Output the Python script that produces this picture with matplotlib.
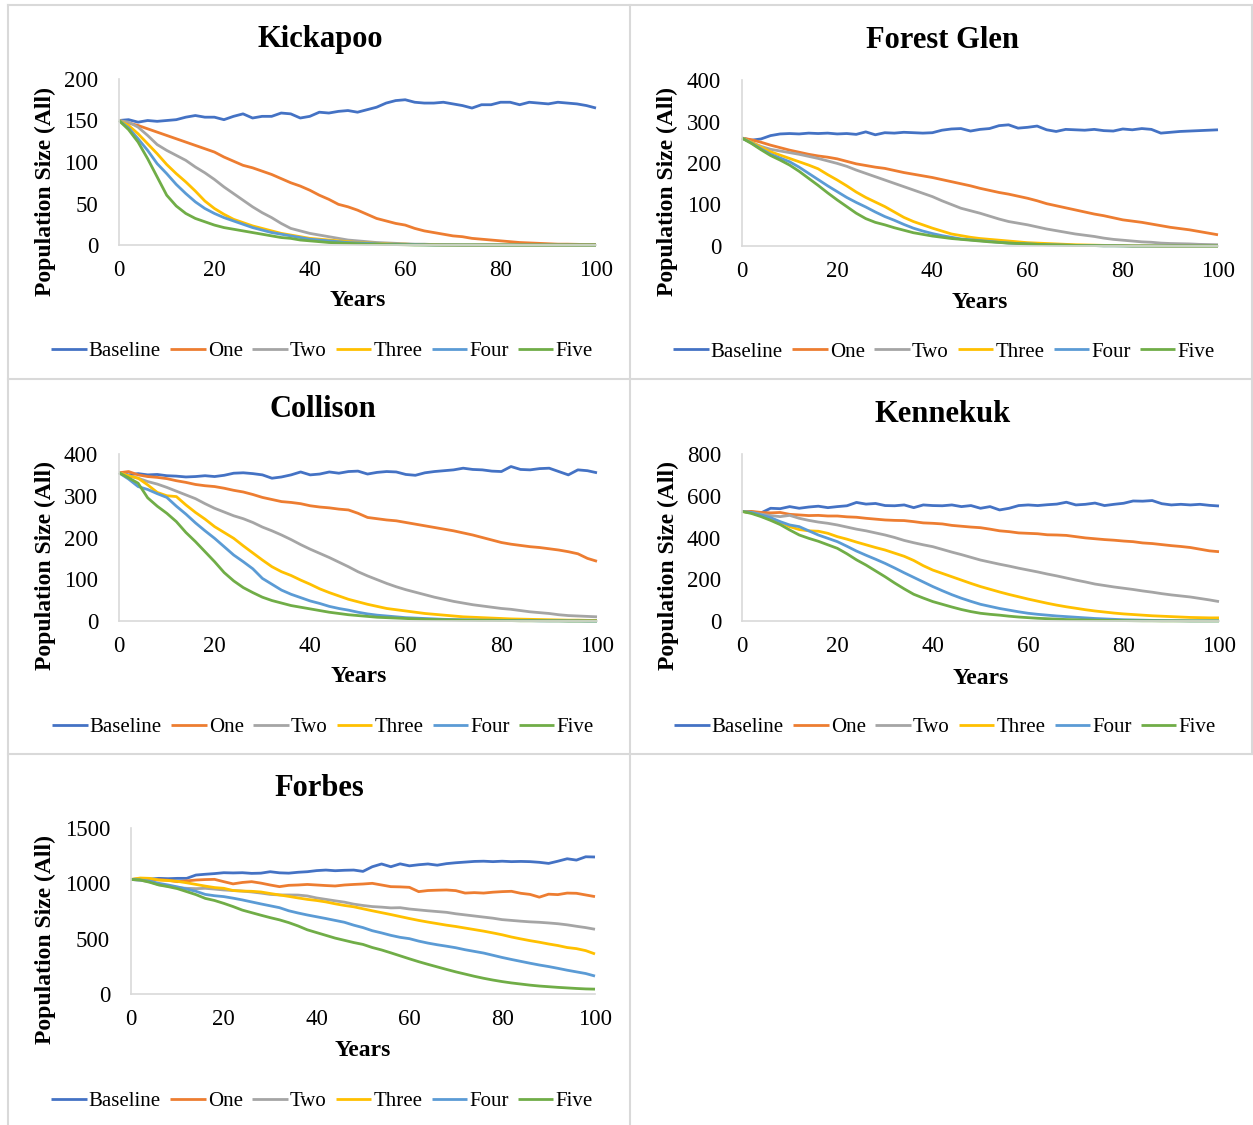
import matplotlib.pyplot as plt
from matplotlib.lines import Line2D

plt.rcParams['font.family'] = ['Liberation Serif', 'DejaVu Serif']

W, H = 1253, 1125

YEARS = [0, 2, 4, 6, 8, 10, 12, 14, 16, 18, 20, 22, 24, 26, 28, 30, 32, 34, 36, 38, 40,
         42, 44, 46, 48, 50, 52, 54, 56, 58, 60, 62, 64, 66, 68, 70, 72, 74, 76, 78, 80,
         82, 84, 86, 88, 90, 92, 94, 96, 98, 100]
SERIES_NAMES = ["Baseline", "One", "Two", "Three", "Four", "Five"]
SERIES_COLORS = ["#4472C4", "#ED7D31", "#A5A5A5", "#FFC000", "#5B9BD5", "#70AD47"]

# Kickapoo
KICK_BASE = [150, 151, 148, 150, 149, 150, 151, 154, 156, 154, 154, 151, 155, 158, 153, 155, 155,
             159, 158, 153, 155, 160, 159, 161, 162, 160, 163, 166, 171, 174, 175, 172, 171, 171,
             172, 170, 168, 165, 169, 169, 172, 172, 169, 172, 171, 170, 172, 171, 170, 168, 165]
KICK_ONE = [150, 147, 144, 140, 136, 132, 128, 124, 120, 116, 112, 106, 101, 96, 93, 89, 85, 80,
            75, 71, 66, 60, 55, 49, 46, 42, 37, 32, 29, 26, 24, 20, 17, 15, 13, 11, 10, 8, 7, 6,
            5, 4, 3, 2.5, 2, 1.5, 1, 1, 0.8, 0.5, 0.5]
KICK_TWO = [150, 148, 142, 132, 121, 114, 108, 102, 94, 87, 79, 70, 62, 54, 46, 39, 33, 26, 20,
            17, 14, 12, 10, 8, 6, 5, 4, 3, 2.5, 2, 1.5, 1, 1, 0.5, 0.5, 0.3, 0, 0, 0, 0, 0, 0,
            0, 0, 0, 0, 0, 0, 0, 0, 0]
KICK_THREE = [150, 144, 134, 122, 110, 97, 86, 76, 65, 53, 44, 37, 31, 27, 23, 20, 17, 14, 12,
              10, 8, 7, 6, 5, 4, 3, 2.5, 2, 1.5, 1, 1, 0.5, 0.5, 0.3, 0, 0, 0, 0, 0, 0, 0, 0,
              0, 0, 0, 0, 0, 0, 0, 0, 0]
KICK_FOUR = [150, 141, 128, 114, 98, 86, 73, 62, 52, 44, 38, 33, 29, 25, 21, 18, 15, 13, 11, 9,
             7, 6, 5, 4, 3, 2.5, 2, 1.5, 1, 1, 0.5, 0.5, 0.3, 0, 0, 0, 0, 0, 0, 0, 0, 0, 0, 0,
             0, 0, 0, 0, 0, 0, 0]
KICK_FIVE = [150, 139, 124, 104, 82, 60, 47, 38, 32, 28, 24, 21, 19, 17, 15, 13, 11, 9, 8, 6,
             5, 4, 3, 2.5, 2, 1.5, 1, 1, 0.5, 0.5, 0.3, 0, 0, 0, 0, 0, 0, 0, 0, 0, 0, 0, 0, 0,
             0, 0, 0, 0, 0, 0, 0]

# Forest Glen
FG_BASE = [260, 255, 258, 266, 270, 271, 270, 272, 271, 272, 270, 271, 269, 275, 268, 273, 272,
           274, 273, 272, 273, 279, 282, 283, 277, 281, 283, 290, 292, 284, 286, 289, 280, 276,
           281, 280, 279, 281, 278, 277, 282, 280, 283, 281, 272, 274, 276, 277, 278, 279, 280]
FG_ONE = [260, 256, 250, 243, 237, 231, 226, 221, 217, 214, 210, 204, 198, 194, 190, 187, 182,
          177, 173, 169, 165, 160, 155, 150, 145, 139, 134, 129, 125, 120, 115, 109, 102, 97, 92,
          87, 82, 77, 73, 68, 63, 60, 57, 53, 49, 45, 42, 39, 35, 31, 27]
FG_TWO = [260, 250, 240, 233, 229, 225, 221, 216, 211, 205, 199, 192, 183, 175, 167, 159, 151,
          143, 135, 127, 119, 109, 100, 91, 85, 79, 72, 65, 59, 55, 51, 46, 41, 37, 33, 29, 26,
          23, 19, 16, 14, 12, 10, 9, 7, 6, 5.5, 5, 4, 3.5, 3]
FG_THREE = [260, 250, 238, 227, 219, 211, 203, 195, 186, 172, 159, 145, 130, 117, 106, 95, 82,
            69, 59, 51, 43, 36, 29, 25, 21, 18, 16, 14, 12, 10, 8, 7, 6, 5, 4, 3, 2.5, 2, 1.5,
            1, 1, 0.5, 0.5, 0.3, 0, 0, 0, 0, 0, 0, 0]
FG_FOUR = [260, 248, 234, 221, 212, 203, 190, 175, 160, 145, 131, 117, 105, 94, 82, 71, 62, 52,
           43, 36, 30, 25, 21, 17, 15, 13, 11, 9, 7, 6, 5, 4, 3, 2.5, 2, 1.5, 1, 1, 0.5, 0.5,
           0.3, 0, 0, 0, 0, 0, 0, 0, 0, 0, 0]
FG_FIVE = [260, 247, 232, 218, 207, 195, 180, 163, 146, 128, 111, 95, 79, 66, 57, 51, 44, 38,
           32, 28, 24, 21, 18, 16, 14, 12, 10, 8.5, 7, 6, 5, 4, 3, 2.5, 2, 1.5, 1, 1, 0.5, 0.5,
           0.3, 0, 0, 0, 0, 0, 0, 0, 0, 0, 0]

# Collison
COL_BASE = [355, 350, 353, 350, 351, 348, 347, 345, 346, 348, 346, 349, 354, 355, 353, 350, 342,
            345, 350, 357, 350, 352, 357, 354, 358, 359, 352, 356, 358, 357, 351, 349, 355, 358,
            360, 362, 366, 363, 362, 359, 358, 370, 363, 362, 365, 366, 358, 350, 362, 360, 355]
COL_ONE = [355, 358, 350, 346, 344, 341, 336, 332, 327, 324, 322, 318, 313, 309, 303, 296, 291,
           286, 284, 281, 276, 273, 271, 268, 266, 258, 248, 245, 242, 240, 236, 232, 228, 224,
           220, 216, 211, 206, 200, 194, 188, 184, 181, 178, 176, 173, 170, 166, 161, 150, 143]
COL_TWO = [355, 348, 342, 334, 328, 320, 311, 302, 293, 281, 270, 261, 252, 245, 236, 225, 216,
           206, 195, 183, 172, 162, 152, 141, 130, 118, 108, 99, 90, 82, 75, 69, 63, 57, 52, 47,
           43, 39, 36, 33, 30, 28, 25, 22, 20, 18, 15, 13, 12, 11, 10]
COL_THREE = [355, 348, 342, 326, 308, 300, 298, 278, 260, 244, 226, 212, 198, 180, 163, 146, 130,
             118, 109, 98, 88, 77, 68, 60, 52, 46, 40, 35, 30, 27, 24, 21, 18, 16, 14, 12, 10, 9,
             8, 7, 6, 5, 4.5, 4, 3.5, 3, 2.5, 2, 2, 1.5, 1.5]
COL_FOUR = [355, 340, 322, 315, 305, 296, 275, 256, 235, 216, 198, 178, 158, 142, 125, 102, 88,
            74, 64, 56, 48, 42, 35, 30, 26, 21, 17, 14, 12, 10, 8, 7, 6, 5, 4, 3.5, 3, 2.5, 2, 2,
            1.5, 1, 1, 1, 0.5, 0.5, 0.5, 0.3, 0.3, 0, 0]
COL_FIVE = [355, 343, 330, 295, 275, 258, 238, 212, 190, 166, 142, 116, 96, 80, 68, 57, 49, 43,
            37, 33, 29, 25, 21, 18, 15, 13, 11, 9, 8, 7, 6, 5, 4, 3.5, 3, 2.5, 2, 2, 1.5, 1.5, 1,
            1, 0.5, 0.5, 0.5, 0.3, 0.3, 0, 0, 0, 0]

# Kennekuk
KEN_BASE = [525, 522, 518, 540, 538, 548, 540, 546, 550, 543, 548, 552, 568, 560, 563, 553, 552,
            556, 543, 556, 553, 552, 556, 548, 553, 540, 548, 532, 540, 553, 556, 553, 557, 560,
            569, 556, 559, 565, 553, 559, 564, 575, 574, 577, 562, 556, 559, 556, 559, 554, 551]
KEN_ONE = [525, 525, 520, 518, 520, 511, 508, 505, 506, 503, 503, 499, 497, 492, 488, 484, 482,
           481, 476, 470, 468, 465, 458, 454, 450, 447, 440, 432, 428, 422, 420, 418, 413, 412,
           410, 404, 398, 394, 390, 387, 383, 380, 374, 371, 366, 361, 357, 352, 344, 336, 332]
KEN_TWO = [525, 520, 512, 505, 500, 506, 492, 482, 474, 468, 460, 450, 440, 432, 422, 412, 400,
           386, 375, 365, 356, 343, 330, 318, 305, 292, 282, 272, 263, 253, 244, 235, 225, 216,
           206, 196, 187, 177, 170, 163, 157, 151, 144, 138, 131, 125, 120, 115, 108, 101, 93]
KEN_THREE = [525, 518, 505, 492, 473, 452, 438, 432, 430, 420, 404, 392, 378, 365, 352, 340, 325,
             310, 290, 265, 244, 228, 212, 196, 180, 165, 152, 139, 127, 116, 105, 95, 85, 76,
             68, 61, 54, 48, 43, 38, 34, 31, 28, 25, 23, 21, 19, 17, 16, 15, 15]
KEN_FOUR = [525, 520, 508, 495, 476, 460, 452, 432, 412, 396, 380, 358, 335, 315, 296, 276, 254,
            231, 209, 187, 165, 145, 126, 109, 94, 80, 70, 60, 52, 44, 37, 32, 28, 24, 21, 18,
            15, 12, 10, 8, 6, 5, 4, 3, 2.5, 2, 1.5, 1, 1, 1, 1]
KEN_FIVE = [525, 515, 500, 482, 462, 436, 412, 396, 382, 365, 348, 322, 293, 268, 240, 212, 182,
            154, 128, 110, 93, 80, 67, 55, 45, 37, 32, 28, 23, 19, 16, 13, 11, 9, 7, 6, 5, 4, 3,
            2.5, 2, 1.5, 1, 1, 0.5, 0.5, 0.5, 0.3, 0.3, 0.3, 0.3]

# Forbes
FOR_BASE = [1035, 1040, 1038, 1045, 1042, 1045, 1045, 1075, 1082, 1088, 1096, 1094, 1096, 1090,
            1092, 1105, 1095, 1092, 1100, 1105, 1115, 1120, 1114, 1118, 1120, 1108, 1150, 1175,
            1150, 1176, 1158, 1168, 1175, 1164, 1178, 1186, 1192, 1198, 1200, 1196, 1200, 1196,
            1198, 1196, 1190, 1180, 1200, 1222, 1210, 1240, 1238]
FOR_ONE = [1035, 1040, 1036, 1032, 1028, 1015, 1022, 1030, 1034, 1036, 1015, 995, 1008, 1015,
           1002, 985, 970, 982, 985, 990, 985, 980, 976, 985, 990, 994, 1000, 985, 970, 968, 964,
           925, 935, 938, 940, 934, 912, 916, 912, 920, 925, 928, 910, 900, 875, 902, 898, 912,
           910, 895, 880]
FOR_TWO = [1035, 1028, 1015, 988, 975, 962, 955, 952, 955, 948, 940, 935, 930, 922, 912, 900,
           895, 895, 894, 886, 868, 855, 842, 830, 812, 800, 790, 785, 778, 780, 768, 760, 752,
           745, 738, 725, 715, 705, 695, 685, 672, 665, 658, 652, 648, 642, 635, 625, 612, 600,
           585]
FOR_THREE = [1035, 1048, 1045, 1030, 1025, 1018, 1005, 990, 975, 962, 955, 935, 930, 928, 922,
             908, 895, 882, 868, 855, 845, 832, 815, 800, 788, 770, 752, 735, 718, 700, 682, 665,
             650, 636, 622, 610, 596, 582, 568, 552, 535, 515, 498, 482, 468, 452, 438, 420, 410,
             392, 362]
FOR_FOUR = [1035, 1030, 1020, 1000, 985, 968, 948, 928, 900, 888, 880, 866, 850, 832, 814, 797,
            780, 752, 732, 714, 698, 682, 665, 648, 622, 600, 572, 552, 530, 512, 500, 478, 460,
            445, 432, 418, 400, 385, 370, 350, 330, 312, 295, 278, 262, 248, 232, 215, 200, 185,
            162]
FOR_FIVE = [1035, 1030, 1010, 985, 970, 952, 925, 898, 864, 845, 819, 790, 758, 735, 712, 690,
            670, 645, 615, 580, 555, 530, 505, 485, 465, 448, 420, 398, 372, 345, 318, 292, 268,
            245, 222, 200, 180, 160, 142, 126, 112, 100, 90, 80, 72, 66, 60, 55, 50, 46, 44]

# layout in pixels: plot area (x0, y0, x1, y1), title, ylabel, xlabel, legend centres
panels = [
    dict(title="Kickapoo", series=[KICK_BASE, KICK_ONE, KICK_TWO, KICK_THREE, KICK_FOUR, KICK_FIVE],
         ymax=200, ystep=50, area=(119, 79, 596, 245), title_at=(320, 40),
         ylab_at=(45, 192), xlab_at=(358, 301), leg_at=(322, 351)),
    dict(title="Forest Glen", series=[FG_BASE, FG_ONE, FG_TWO, FG_THREE, FG_FOUR, FG_FIVE],
         ymax=400, ystep=100, area=(742, 80, 1218, 246), title_at=(942, 40),
         ylab_at=(667, 192), xlab_at=(980, 302), leg_at=(944, 352)),
    dict(title="Collison", series=[COL_BASE, COL_ONE, COL_TWO, COL_THREE, COL_FOUR, COL_FIVE],
         ymax=400, ystep=100, area=(119, 454, 597, 621), title_at=(323, 409),
         ylab_at=(45, 566), xlab_at=(359, 677), leg_at=(323, 727)),
    dict(title="Kennekuk", series=[KEN_BASE, KEN_ONE, KEN_TWO, KEN_THREE, KEN_FOUR, KEN_FIVE],
         ymax=800, ystep=200, area=(742, 454, 1219, 621), title_at=(943, 415),
         ylab_at=(668, 566), xlab_at=(981, 678), leg_at=(945, 727)),
    dict(title="Forbes", series=[FOR_BASE, FOR_ONE, FOR_TWO, FOR_THREE, FOR_FOUR, FOR_FIVE],
         ymax=1500, ystep=500, area=(131, 828, 595, 994), title_at=(319, 789),
         ylab_at=(45, 940), xlab_at=(363, 1051), leg_at=(322, 1101)),
]


def fx(x):
    return x / W


def fy(y):
    return 1 - y / H


fig = plt.figure(figsize=(W / 100, H / 100), dpi=100)

# panel borders
border = '#d9d9d9'
for (x0, y0, x1, y1) in [(8, 5, 1252, 5), (8, 5, 8, 1125), (1252, 5, 1252, 754),
                         (630, 5, 630, 1125), (8, 379, 1252, 379), (8, 754, 1252, 754)]:
    fig.add_artist(Line2D([fx(x0), fx(x1)], [fy(y0), fy(y1)], color=border, lw=1.5))

for p in panels:
    x0, y0, x1, y1 = p['area']
    ax = fig.add_axes([fx(x0), fy(y1), (x1 - x0) / W, (y1 - y0) / H])
    for vals, name, col in zip(p['series'], SERIES_NAMES, SERIES_COLORS):
        ax.plot(YEARS, vals, color=col, lw=2.0, label=name, clip_on=False, solid_capstyle='butt')
    ax.set_xlim(0, 100)
    ax.set_ylim(0, p['ymax'])
    ax.set_xticks(range(0, 101, 20))
    ax.set_yticks(range(0, p['ymax'] + 1, p['ystep']))
    ax.tick_params(length=0, labelsize=16.5)
    ax.tick_params(axis='y', pad=15)
    ax.tick_params(axis='x', pad=11)
    for side in ['top', 'right']:
        ax.spines[side].set_visible(False)
    for side in ['left', 'bottom']:
        ax.spines[side].set_color(border)
        ax.spines[side].set_linewidth(1.2)

    fig.text(fx(p['title_at'][0]), fy(p['title_at'][1]), p['title'], fontsize=22,
             fontweight='bold', ha='center', va='center')
    fig.text(fx(p['ylab_at'][0]), fy(p['ylab_at'][1]), "Population Size (All)", fontsize=17,
             fontweight='bold', rotation=90, ha='center', va='center')
    fig.text(fx(p['xlab_at'][0]), fy(p['xlab_at'][1]), "Years", fontsize=17,
             fontweight='bold', ha='center', va='center')

    handles, labels = ax.get_legend_handles_labels()
    fig.legend(handles, labels, loc='center', ncol=6, frameon=False, fontsize=15,
               bbox_to_anchor=(fx(p['leg_at'][0]), fy(p['leg_at'][1])),
               bbox_transform=fig.transFigure, handlelength=1.7, handletextpad=0.1,
               columnspacing=0.45, borderpad=0, borderaxespad=0)

fig.savefig('out.png', dpi=100)
